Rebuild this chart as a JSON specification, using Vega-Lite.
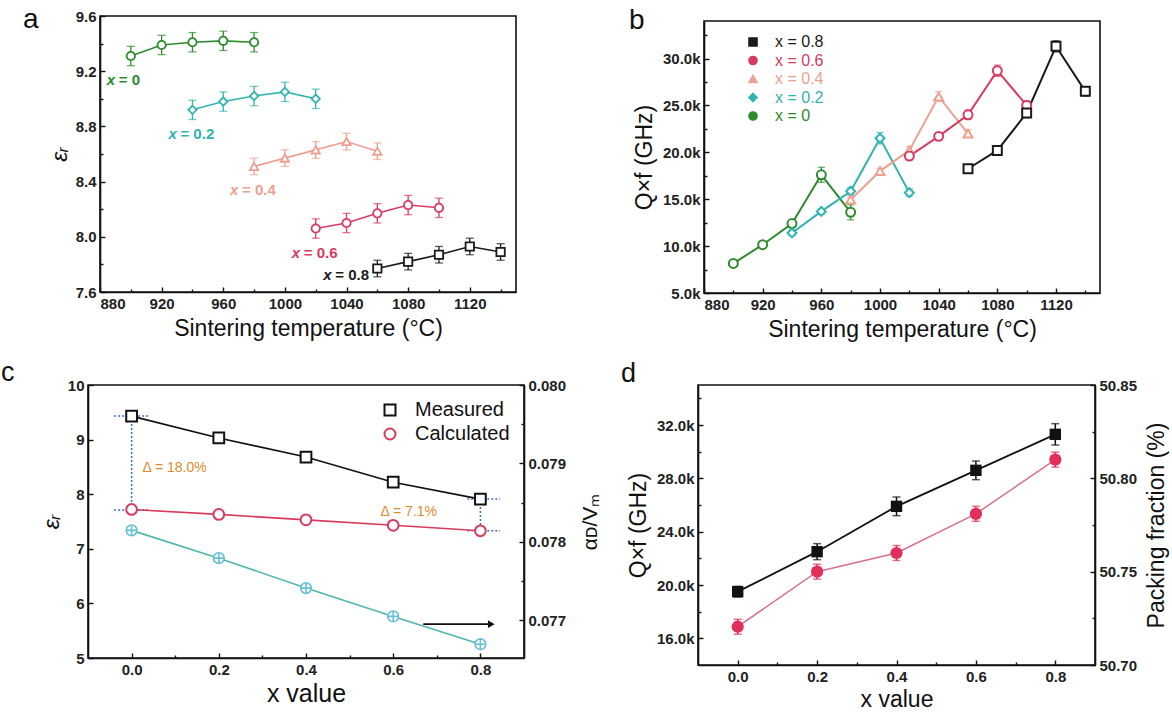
{
  "$schema": "https://vega.github.io/schema/vega-lite/v6.json",
  "background": "white",
  "padding": {"left": 0, "top": 5, "right": 0, "bottom": 0},
  "datasets": {
    "pa": [
      {"series": "0", "temp": 900, "eps": 9.31, "err": 0.07},
      {"series": "0", "temp": 920, "eps": 9.39, "err": 0.07},
      {"series": "0", "temp": 940, "eps": 9.41, "err": 0.07},
      {"series": "0", "temp": 960, "eps": 9.42, "err": 0.07},
      {"series": "0", "temp": 980, "eps": 9.41, "err": 0.07},
      {"series": "0.2", "temp": 940, "eps": 8.92, "err": 0.07},
      {"series": "0.2", "temp": 960, "eps": 8.98, "err": 0.07},
      {"series": "0.2", "temp": 980, "eps": 9.02, "err": 0.07},
      {"series": "0.2", "temp": 1000, "eps": 9.05, "err": 0.07},
      {"series": "0.2", "temp": 1020, "eps": 9.0, "err": 0.07},
      {"series": "0.4", "temp": 980, "eps": 8.51, "err": 0.06},
      {"series": "0.4", "temp": 1000, "eps": 8.57, "err": 0.06},
      {"series": "0.4", "temp": 1020, "eps": 8.63, "err": 0.06},
      {"series": "0.4", "temp": 1040, "eps": 8.69, "err": 0.06},
      {"series": "0.4", "temp": 1060, "eps": 8.62, "err": 0.06},
      {"series": "0.6", "temp": 1020, "eps": 8.06, "err": 0.07},
      {"series": "0.6", "temp": 1040, "eps": 8.1, "err": 0.07},
      {"series": "0.6", "temp": 1060, "eps": 8.17, "err": 0.07},
      {"series": "0.6", "temp": 1080, "eps": 8.23, "err": 0.07},
      {"series": "0.6", "temp": 1100, "eps": 8.21, "err": 0.07},
      {"series": "0.8", "temp": 1060, "eps": 7.77, "err": 0.06},
      {"series": "0.8", "temp": 1080, "eps": 7.82, "err": 0.06},
      {"series": "0.8", "temp": 1100, "eps": 7.87, "err": 0.06},
      {"series": "0.8", "temp": 1120, "eps": 7.93, "err": 0.06},
      {"series": "0.8", "temp": 1140, "eps": 7.89, "err": 0.06}
    ],
    "pb": [
      {"series": "0", "temp": 900, "qf": 8150, "err": 300},
      {"series": "0", "temp": 920, "qf": 10150, "err": 300},
      {"series": "0", "temp": 940, "qf": 12400, "err": 400},
      {"series": "0", "temp": 960, "qf": 17600, "err": 800},
      {"series": "0", "temp": 980, "qf": 13600, "err": 800},
      {"series": "0.2", "temp": 940, "qf": 11400, "err": 300},
      {"series": "0.2", "temp": 960, "qf": 13700, "err": 300},
      {"series": "0.2", "temp": 980, "qf": 15850, "err": 400},
      {"series": "0.2", "temp": 1000, "qf": 21500, "err": 600},
      {"series": "0.2", "temp": 1020, "qf": 15700, "err": 400},
      {"series": "0.4", "temp": 980, "qf": 14950, "err": 300},
      {"series": "0.4", "temp": 1000, "qf": 18000, "err": 300},
      {"series": "0.4", "temp": 1020, "qf": 20200, "err": 400},
      {"series": "0.4", "temp": 1040, "qf": 25950, "err": 500},
      {"series": "0.4", "temp": 1060, "qf": 22000, "err": 400},
      {"series": "0.6", "temp": 1020, "qf": 19600, "err": 400},
      {"series": "0.6", "temp": 1040, "qf": 21700, "err": 400},
      {"series": "0.6", "temp": 1060, "qf": 24000, "err": 500},
      {"series": "0.6", "temp": 1080, "qf": 28700, "err": 600},
      {"series": "0.6", "temp": 1100, "qf": 25000, "err": 500},
      {"series": "0.8", "temp": 1060, "qf": 18250, "err": 400},
      {"series": "0.8", "temp": 1080, "qf": 20200, "err": 400},
      {"series": "0.8", "temp": 1100, "qf": 24200, "err": 500},
      {"series": "0.8", "temp": 1120, "qf": 31300, "err": 600},
      {"series": "0.8", "temp": 1140, "qf": 26500, "err": 500}
    ],
    "pc": [
      {"x": 0, "kind": "Measured", "eps": 9.43},
      {"x": 0.2, "kind": "Measured", "eps": 9.03},
      {"x": 0.4, "kind": "Measured", "eps": 8.68},
      {"x": 0.6, "kind": "Measured", "eps": 8.22},
      {"x": 0.8, "kind": "Measured", "eps": 7.91},
      {"x": 0, "kind": "Calculated", "eps": 7.72},
      {"x": 0.2, "kind": "Calculated", "eps": 7.63},
      {"x": 0.4, "kind": "Calculated", "eps": 7.53},
      {"x": 0.6, "kind": "Calculated", "eps": 7.43},
      {"x": 0.8, "kind": "Calculated", "eps": 7.33}
    ],
    "cAlpha": [
      {"x": 0, "alpha": 0.078147},
      {"x": 0.2, "alpha": 0.077793},
      {"x": 0.4, "alpha": 0.077411},
      {"x": 0.6, "alpha": 0.07705},
      {"x": 0.8, "alpha": 0.076696}
    ],
    "cGuide": [
      {"x1": -0.04, "x2": 0.04, "y1": 9.43, "y2": 9.43},
      {"x1": -0.04, "x2": 0.04, "y1": 7.71, "y2": 7.71},
      {"x1": 0, "x2": 0, "y1": 9.43, "y2": 7.72},
      {"x1": 0.77, "x2": 0.845, "y1": 7.91, "y2": 7.91},
      {"x1": 0.77, "x2": 0.845, "y1": 7.33, "y2": 7.33},
      {"x1": 0.8, "x2": 0.8, "y1": 7.91, "y2": 7.33}
    ],
    "cText": [
      {"x": 0.025, "y": 8.48, "t": "Δ =  18.0%"},
      {"x": 0.571, "y": 7.67, "t": "Δ =  7.1%"}
    ],
    "cArrow": [
      {"x1": 0.669, "x2": 0.825, "y": 5.62}
    ],
    "pd": [
      {"x": 0, "qf": 19500, "qfe": 400, "pf": 50.7205, "pfe": 0.004},
      {"x": 0.2, "qf": 22500, "qfe": 600, "pf": 50.75, "pfe": 0.004},
      {"x": 0.4, "qf": 25900, "qfe": 700, "pf": 50.76, "pfe": 0.004},
      {"x": 0.6, "qf": 28600, "qfe": 700, "pf": 50.781, "pfe": 0.004},
      {"x": 0.8, "qf": 31300, "qfe": 800, "pf": 50.81, "pfe": 0.004}
    ]
  },
  "bounds": "flush",
  "spacing": 369,
  "resolve": {"scale": {"color": "independent", "shape": "independent"}},
  "vconcat": [
    {
      "bounds": "flush",
      "spacing": 0,
      "resolve": {"scale": {"color": "independent", "shape": "independent"}},
      "hconcat": [
        {"width": 12, "height": 1, "data": {"values": []}, "mark": "point", "view": {"stroke": null}},
        {
          "bounds": "flush",
          "spacing": 188,
          "resolve": {"scale": {"color": "independent", "shape": "independent"}},
          "hconcat": [
            {
              "width": 416,
              "height": 276,
              "title": {"text": "a", "anchor": "start", "frame": "group", "dx": -77, "dy": 38, "offset": -9, "baseline": "alphabetic", "fontSize": 28, "fontWeight": "normal", "font": "Liberation Sans", "color": "#111"},
              "data": {"name": "pa"},
              "encoding": {
                "x": {"field": "temp", "type": "quantitative", "scale": {"domain": [880, 1150], "nice": false, "zero": false}, "axis": {"values": [880, 900, 920, 940, 960, 980, 1000, 1020, 1040, 1060, 1080, 1100, 1120, 1140], "labelExpr": "(datum.value - 880) % 40 == 0 ? format(datum.value, 'd') : ''", "tickSize": {"condition": {"test": "(datum.value - 880) % 40 != 0", "value": -3}, "value": -5}, "title": "Sintering temperature (°C)", "titlePadding": 6}},
                "y": {"field": "eps", "type": "quantitative", "scale": {"domain": [7.6, 9.6], "nice": false, "zero": false}, "axis": {"values": [7.6, 7.8, 8, 8.2, 8.4, 8.6, 8.8, 9, 9.2, 9.4, 9.6], "labelExpr": "round(datum.value*10) % 4 == 0 ? format(datum.value, '.1f') : ''", "tickSize": {"condition": {"test": "round(datum.value*10) % 4 != 0", "value": -3}, "value": -5}, "title": "εᵣ", "titleFontStyle": "italic", "titlePadding": 4}},
                "color": {"field": "series", "type": "nominal", "scale": {"domain": ["0.8", "0.6", "0.4", "0.2", "0"], "range": ["#1a1a1a", "#d83a62", "#eda08f", "#30b4b0", "#2e8b2e"]}, "legend": null}
              },
              "layer": [
                {"mark": {"type": "line", "strokeWidth": 1.6}},
                {"mark": {"type": "errorbar", "ticks": {"size": 8}, "thickness": 1.3}, "encoding": {"yError": {"field": "err"}}},
                {"mark": {"type": "point", "filled": false, "fill": "white", "size": 70, "strokeWidth": 1.8, "opacity": 1}, "encoding": {"shape": {"field": "series", "type": "nominal", "scale": {"domain": ["0.8", "0.6", "0.4", "0.2", "0"], "range": ["square", "circle", "triangle-up", "diamond", "circle"]}, "legend": null}}},
                {
                  "transform": [{"joinaggregate": [{"op": "min", "field": "temp", "as": "t0"}], "groupby": ["series"]}, {"filter": "datum.temp == datum.t0 && datum.series != '0.8'"}],
                  "mark": {"type": "text", "text": "x", "fontStyle": "italic", "fontWeight": "bold", "fontSize": 15, "align": "left", "baseline": "middle", "dx": -24, "dy": 24}
                },
                {
                  "transform": [{"joinaggregate": [{"op": "min", "field": "temp", "as": "t0"}], "groupby": ["series"]}, {"filter": "datum.temp == datum.t0 && datum.series != '0.8'"}, {"calculate": "'= ' + datum.series", "as": "lab"}],
                  "mark": {"type": "text", "fontWeight": "bold", "fontSize": 15, "align": "left", "baseline": "middle", "dx": -12, "dy": 24},
                  "encoding": {"text": {"field": "lab"}}
                },
                {
                  "transform": [{"joinaggregate": [{"op": "min", "field": "temp", "as": "t0"}], "groupby": ["series"]}, {"filter": "datum.temp == datum.t0 && datum.series == '0.8'"}],
                  "mark": {"type": "text", "text": "x", "fontStyle": "italic", "fontWeight": "bold", "fontSize": 15, "align": "left", "baseline": "middle", "dx": -54, "dy": 6}
                },
                {
                  "transform": [{"joinaggregate": [{"op": "min", "field": "temp", "as": "t0"}], "groupby": ["series"]}, {"filter": "datum.temp == datum.t0 && datum.series == '0.8'"}, {"calculate": "'= ' + datum.series", "as": "lab"}],
                  "mark": {"type": "text", "fontWeight": "bold", "fontSize": 15, "align": "left", "baseline": "middle", "dx": -42, "dy": 6},
                  "encoding": {"text": {"field": "lab"}}
                }
              ]
            },
            {
              "bounds": "flush",
              "spacing": 0,
              "resolve": {"scale": {"color": "independent", "shape": "independent"}},
              "vconcat": [
                {"width": 1, "height": 5, "data": {"values": []}, "mark": "point", "view": {"stroke": null}},
                {
                  "width": 396,
                  "height": 272,
                  "title": {"text": "b", "anchor": "start", "frame": "group", "dx": -75, "dy": 31, "offset": -5, "baseline": "alphabetic", "fontSize": 28, "fontWeight": "normal", "font": "Liberation Sans", "color": "#111"},
                  "data": {"name": "pb"},
                  "encoding": {
                    "x": {"field": "temp", "type": "quantitative", "scale": {"domain": [880, 1150], "nice": false, "zero": false}, "axis": {"values": [880, 900, 920, 940, 960, 980, 1000, 1020, 1040, 1060, 1080, 1100, 1120, 1140], "labelExpr": "(datum.value - 880) % 40 == 0 ? format(datum.value, 'd') : ''", "tickSize": {"condition": {"test": "(datum.value - 880) % 40 != 0", "value": -3}, "value": -5}, "title": "Sintering temperature (°C)", "titlePadding": 6}},
                    "y": {"field": "qf", "type": "quantitative", "scale": {"domain": [5000, 34000], "nice": false, "zero": false}, "axis": {"values": [5000, 7500, 10000, 12500, 15000, 17500, 20000, 22500, 25000, 27500, 30000, 32500], "labelExpr": "datum.value % 5000 == 0 ? format(datum.value/1000, '.1f') + 'k' : ''", "tickSize": {"condition": {"test": "datum.value % 5000 != 0", "value": -3}, "value": -5}, "title": "Q×f (GHz)", "titlePadding": 6}},
                    "color": {"field": "series", "type": "nominal", "scale": {"domain": ["0.8", "0.6", "0.4", "0.2", "0"], "range": ["#1a1a1a", "#d83a62", "#eda08f", "#30b4b0", "#2e8b2e"]}}
                  },
                  "layer": [
                    {"mark": {"type": "line", "strokeWidth": 2}},
                    {"mark": {"type": "errorbar", "ticks": {"size": 7}, "thickness": 1.3}, "encoding": {"yError": {"field": "err"}}},
                    {
                      "mark": {"type": "point", "filled": false, "fill": "white", "size": 80, "strokeWidth": 2, "opacity": 1},
                      "encoding": {
                        "shape": {
                          "field": "series", "type": "nominal",
                          "scale": {"domain": ["0.8", "0.6", "0.4", "0.2", "0"], "range": ["square", "circle", "triangle-up", "diamond", "circle"]}
                        },
                        "color": {
                          "field": "series", "type": "nominal",
                          "scale": {"domain": ["0.8", "0.6", "0.4", "0.2", "0"], "range": ["#1a1a1a", "#d83a62", "#eda08f", "#30b4b0", "#2e8b2e"]},
                          "legend": {
                            "orient": "none", "legendX": 41, "legendY": 13, "title": null, "direction": "vertical", "padding": 0,
                            "labelExpr": "'x = ' + datum.label", "labelFont": "Liberation Sans", "labelFontSize": 16, "labelFontWeight": "normal",
                            "symbolSize": 64, "labelOffset": 14, "rowPadding": 2.5, "symbolStrokeWidth": 1.6,
                            "encoding": {
                              "labels": {"fill": {"condition": [{"test": "datum.value === '0.8'", "value": "#1a1a1a"}, {"test": "datum.value === '0.6'", "value": "#d83a62"}, {"test": "datum.value === '0.4'", "value": "#eda08f"}, {"test": "datum.value === '0.2'", "value": "#30b4b0"}], "value": "#2e8b2e"}}
                            }
                          }
                        }
                      }
                    }
                  ]
                }
              ]
            }
          ]
        }
      ]
    },
    {
      "bounds": "flush",
      "spacing": 174,
      "resolve": {"scale": {"color": "independent", "shape": "independent"}},
      "hconcat": [
        {
          "width": 436,
          "height": 273,
          "title": {"text": "c", "anchor": "start", "frame": "group", "dx": -87, "dy": 34, "offset": 4, "baseline": "alphabetic", "fontSize": 27, "fontWeight": "normal", "font": "Liberation Sans", "color": "#111"},
          "resolve": {"scale": {"y": "independent"}},
          "layer": [
            {
              "layer": [
                {
                  "data": {"name": "cGuide"},
                  "mark": {"type": "rule", "strokeDash": [2, 2], "color": "#3d6bc4", "strokeWidth": 1.5},
                  "encoding": {
                    "x": {"field": "x1", "type": "quantitative", "scale": {"domain": [-0.1, 0.9], "nice": false, "zero": false}, "axis": {"values": [0, 0.1, 0.2, 0.3, 0.4, 0.5, 0.6, 0.7, 0.8], "labelExpr": "round(datum.value*10) % 2 == 0 ? format(datum.value, '.1f') : ''", "tickSize": {"condition": {"test": "round(datum.value*10) % 2 != 0", "value": -3}, "value": -5}, "title": "x value", "titleFontSize": 25, "titlePadding": 4}},
                    "x2": {"field": "x2"},
                    "y": {"field": "y1", "type": "quantitative", "scale": {"domain": [5, 10], "nice": false, "zero": false}, "axis": {"values": [5, 5.5, 6, 6.5, 7, 7.5, 8, 8.5, 9, 9.5, 10], "labelExpr": "datum.value % 1 == 0 ? format(datum.value, 'd') : ''", "tickSize": {"condition": {"test": "datum.value % 1 != 0", "value": -3}, "value": -5}, "title": "εᵣ", "titleFontStyle": "italic", "titlePadding": 4}},
                    "y2": {"field": "y2"}
                  }
                },
                {
                  "data": {"name": "pc"},
                  "mark": {"type": "line", "strokeWidth": 1.6},
                  "encoding": {
                    "x": {"field": "x", "type": "quantitative"},
                    "y": {"field": "eps", "type": "quantitative"},
                    "color": {"field": "kind", "type": "nominal", "scale": {"domain": ["Measured", "Calculated"], "range": ["#111111", "#d83a5e"]}}
                  }
                },
                {
                  "data": {"name": "pc"},
                  "mark": {"type": "point", "filled": false, "fill": "white", "size": 115, "strokeWidth": 2, "opacity": 1},
                  "encoding": {
                    "x": {"field": "x", "type": "quantitative"},
                    "y": {"field": "eps", "type": "quantitative"},
                    "shape": {
                      "field": "kind", "type": "nominal",
                      "scale": {"domain": ["Measured", "Calculated"], "range": ["square", "circle"]}
                    },
                    "color": {
                      "field": "kind", "type": "nominal",
                      "scale": {"domain": ["Measured", "Calculated"], "range": ["#111111", "#d83a5e"]},
                      "legend": {
                        "orient": "none", "legendX": 292, "legendY": 15, "title": null, "direction": "vertical", "padding": 0,
                        "labelFont": "Liberation Sans", "labelFontSize": 20, "labelFontWeight": "normal", "labelColor": "#111",
                        "symbolSize": 121, "labelOffset": 15, "rowPadding": 4, "symbolStrokeWidth": 2
                      }
                    }
                  }
                },
                {
                  "data": {"name": "cText"},
                  "mark": {"type": "text", "align": "left", "baseline": "middle", "fontSize": 14, "color": "#e08a30"},
                  "encoding": {
                    "x": {"field": "x", "type": "quantitative"},
                    "y": {"field": "y", "type": "quantitative"},
                    "text": {"field": "t"}
                  }
                },
                {
                  "data": {"name": "cArrow"},
                  "mark": {"type": "rule", "color": "#111", "strokeWidth": 1.8},
                  "encoding": {
                    "x": {"field": "x1", "type": "quantitative"},
                    "x2": {"field": "x2"},
                    "y": {"field": "y", "type": "quantitative"}
                  }
                },
                {
                  "data": {"name": "cArrow"},
                  "mark": {"type": "point", "shape": "triangle-right", "filled": true, "color": "#111", "size": 60, "opacity": 1},
                  "encoding": {
                    "x": {"field": "x2", "type": "quantitative"},
                    "y": {"field": "y", "type": "quantitative"}
                  }
                }
              ]
            },
            {
              "data": {"name": "cAlpha"},
              "encoding": {
                "x": {"field": "x", "type": "quantitative"},
                "y": {"field": "alpha", "type": "quantitative", "scale": {"domain": [0.07652, 0.08], "nice": false, "zero": false}, "axis": {"orient": "right", "values": [0.077, 0.0775, 0.078, 0.0785, 0.079, 0.0795, 0.08], "labelExpr": "round(datum.value*10000) % 10 == 0 ? format(datum.value, '.3f') : ''", "tickSize": {"condition": {"test": "round(datum.value*10000) % 10 != 0", "value": -3}, "value": -5}, "title": "αᴅ/Vₘ", "titleAngle": 270, "titlePadding": 35, "titleFontSize": 21}}
              },
              "layer": [
                {"mark": {"type": "line", "strokeWidth": 1.6, "color": "#4fb7ad"}},
                {"mark": {"type": "point", "shape": "M-1,0A1,1,0,1,0,1,0A1,1,0,1,0,-1,0ZM-1,0H1M0,-1V1", "filled": false, "fill": "white", "color": "#66c0d6", "size": 115, "strokeWidth": 1.6, "opacity": 1}}
              ]
            }
          ]
        },
        {
          "width": 397,
          "height": 280,
          "title": {"text": "d", "anchor": "start", "frame": "group", "dx": -77, "dy": 34, "offset": 3, "baseline": "alphabetic", "fontSize": 27, "fontWeight": "normal", "font": "Liberation Sans", "color": "#111"},
          "data": {"name": "pd"},
          "resolve": {"scale": {"y": "independent"}},
          "encoding": {
            "x": {"field": "x", "type": "quantitative", "scale": {"domain": [-0.1, 0.9], "nice": false, "zero": false}, "axis": {"values": [0, 0.1, 0.2, 0.3, 0.4, 0.5, 0.6, 0.7, 0.8], "labelExpr": "round(datum.value*10) % 2 == 0 ? format(datum.value, '.1f') : ''", "tickSize": {"condition": {"test": "round(datum.value*10) % 2 != 0", "value": -3}, "value": -5}, "title": "x value", "titleFontSize": 23, "titlePadding": 4}}
          },
          "layer": [
            {
              "encoding": {
                "y": {"field": "qf", "type": "quantitative", "scale": {"domain": [14000, 35000], "nice": false, "zero": false}, "axis": {"values": [16000, 18000, 20000, 22000, 24000, 26000, 28000, 30000, 32000, 34000], "labelExpr": "datum.value % 4000 == 0 ? format(datum.value/1000, '.1f') + 'k' : ''", "tickSize": {"condition": {"test": "datum.value % 4000 != 0", "value": -3}, "value": -5}, "title": "Q×f (GHz)", "titlePadding": 6}}
              },
              "layer": [
                {"mark": {"type": "line", "strokeWidth": 1.8, "color": "#111"}},
                {"mark": {"type": "errorbar", "color": "#111", "ticks": {"size": 8}, "thickness": 1.5}, "encoding": {"yError": {"field": "qfe"}}},
                {"mark": {"type": "point", "shape": "square", "filled": true, "color": "#111", "size": 130, "opacity": 1}}
              ]
            },
            {
              "encoding": {
                "y": {"field": "pf", "type": "quantitative", "scale": {"domain": [50.7, 50.85], "nice": false, "zero": false}, "axis": {"orient": "right", "values": [50.7, 50.725, 50.75, 50.775, 50.8, 50.825, 50.85], "labelExpr": "round(datum.value*1000) % 50 == 0 ? format(datum.value, '.2f') : ''", "tickSize": {"condition": {"test": "round(datum.value*1000) % 50 != 0", "value": -3}, "value": -5}, "title": "Packing fraction (%)", "titleAngle": 270, "titlePadding": 32}}
              },
              "layer": [
                {"mark": {"type": "line", "strokeWidth": 1.5, "color": "#d9708a"}},
                {"mark": {"type": "errorbar", "color": "#e0305a", "ticks": {"size": 8}, "thickness": 1.5}, "encoding": {"yError": {"field": "pfe"}}},
                {"mark": {"type": "point", "shape": "circle", "filled": true, "color": "#e0305a", "size": 150, "opacity": 1}}
              ]
            }
          ]
        }
      ]
    }
  ],
  "config": {
    "font": "Liberation Sans",
    "view": {"stroke": "#111", "strokeWidth": 1.6},
    "axis": {
      "grid": false,
      "domainColor": "#111",
      "domainWidth": 1.6,
      "tickColor": "#111",
      "tickWidth": 1.4,
      "tickSize": -5,
      "labelPadding": 9,
      "labelFont": "Liberation Sans",
      "labelFontSize": 15,
      "labelFontWeight": "bold",
      "labelColor": "#222",
      "titleFont": "Liberation Sans",
      "titleFontSize": 23,
      "titleFontWeight": "normal",
      "titleColor": "#111"
    },
    "legend": {"padding": 0}
  }
}
